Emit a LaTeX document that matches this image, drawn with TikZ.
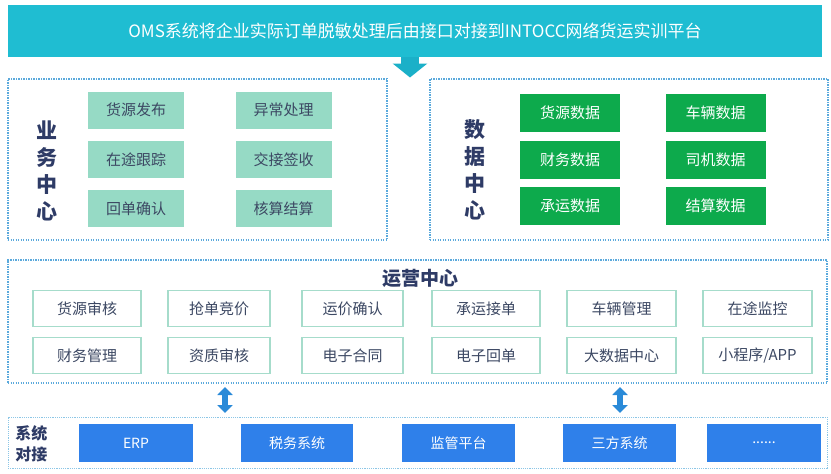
\documentclass[tikz,border=0pt]{standalone}
\usepackage{fontspec}
\setmainfont{Noto Sans CJK SC}
\usetikzlibrary{arrows.meta}
\definecolor{bannerc}{HTML}{1FBDD2}
\definecolor{arrowc}{HTML}{1BB0C8}
\definecolor{lightg}{HTML}{96DAC5}
\definecolor{darkg}{HTML}{0DAA4C}
\definecolor{navy}{HTML}{2E3B66}
\definecolor{boxtxt}{HTML}{3C4863}
\definecolor{opsb}{HTML}{A6DCCB}
\definecolor{bluebox}{HTML}{2F80EA}
\definecolor{dotc}{HTML}{5AA9DC}
\definecolor{sysdot}{HTML}{8CC6E6}
\definecolor{dblarrow}{HTML}{2A8AD8}
\tikzset{
  dotframe/.style={draw=dotc, line width=1.3pt, dash pattern=on 1.4pt off 1.1pt},
  sysframe/.style={draw=sysdot, line width=1pt, dash pattern=on 1.2pt off 1pt},
  lgbox/.style={fill=lightg, draw=none, minimum height=37pt, minimum width=96pt, text=boxtxt, font=\fontsize{15}{18}\selectfont, inner sep=0pt},
  dgbox/.style={fill=darkg, draw=none, minimum height=38pt, minimum width=100pt, text=white, font=\fontsize{15}{18}\selectfont, inner sep=0pt},
  opbox/.style={fill=white, draw=opsb, line width=1.3pt, minimum height=36pt, text=boxtxt, font=\fontsize{15}{18}\selectfont, inner sep=0pt},
  bbox/.style={fill=bluebox, draw=none, minimum height=38pt, minimum width=113pt, text=white, font=\fontsize{14}{17}\selectfont, inner sep=0pt},
  biglabel/.style={text=navy, font=\fontsize{21}{27}\selectfont\bfseries, align=center, inner sep=0pt},
  dblarr/.style={draw=dblarrow, line width=6pt, {Triangle[width=15pt,length=8pt]}-{Triangle[width=15pt,length=8pt]}},
}
\begin{document}
\begin{tikzpicture}[x=1pt,y=-1pt]
\useasboundingbox (0,0) rectangle (831,474);
% banner
\node[fill=bannerc, minimum width=814pt, minimum height=52pt, inner sep=0pt, text=white, font=\fontsize{17}{20}\selectfont] (banner) at (415,31) {OMS系统将企业实际订单脱敏处理后由接口对接到INTOCC网络货运实训平台};
\coordinate (ta) at (410,57);
\coordinate (tb) at (410,77.5);
\draw[draw=arrowc, line width=18pt, -{Triangle[width=34pt,length=14pt]}] (ta) -- (tb);
% business center
\node[dotframe, minimum width=379pt, minimum height=161pt, inner sep=0pt] (biz) at (197.5,159.5) {};
\node[biglabel] (bizl) at (47,171) {业\\务\\中\\心};
\node[lgbox] (b1) at (136,110) {货源发布};
\node[lgbox] (b2) at (283.5,110) {异常处理};
\node[lgbox] (b3) at (136,159.5) {在途跟踪};
\node[lgbox] (b4) at (283.5,159.5) {交接签收};
\node[lgbox] (b5) at (136,208.5) {回单确认};
\node[lgbox] (b6) at (283.5,208.5) {核算结算};
% data center
\node[dotframe, minimum width=398pt, minimum height=161pt, inner sep=0pt] (data) at (629,159.5) {};
\node[biglabel] (datal) at (475,170) {数\\据\\中\\心};
\node[dgbox] (d1) at (570,113) {货源数据};
\node[dgbox] (d2) at (715.5,113) {车辆数据};
\node[dgbox] (d3) at (570,159.5) {财务数据};
\node[dgbox] (d4) at (715.5,159.5) {司机数据};
\node[dgbox] (d5) at (570,206) {承运数据};
\node[dgbox] (d6) at (715.5,206) {结算数据};
% operations center
\node[dotframe, minimum width=819pt, minimum height=123pt, inner sep=0pt] (ops) at (417.5,321.5) {};
\node[text=navy, font=\fontsize{19}{22}\selectfont\bfseries, inner sep=0pt] (opsl) at (420,278) {运营中心};
\node[opbox, minimum width=108pt] (o1) at (87,308.5) {货源审核};
\node[opbox, minimum width=102pt] (o2) at (219,308.5) {抢单竞价};
\node[opbox, minimum width=101pt] (o3) at (352.5,308.5) {运价确认};
\node[opbox, minimum width=108pt] (o4) at (486,308.5) {承运接单};
\node[opbox, minimum width=109pt] (o5) at (621.5,308.5) {车辆管理};
\node[opbox, minimum width=109pt] (o6) at (757.5,308.5) {在途监控};
\node[opbox, minimum width=108pt] (o7) at (87,355.5) {财务管理};
\node[opbox, minimum width=102pt] (o8) at (219,355.5) {资质审核};
\node[opbox, minimum width=101pt] (o9) at (352.5,355.5) {电子合同};
\node[opbox, minimum width=108pt] (o10) at (486,355.5) {电子回单};
\node[opbox, minimum width=109pt] (o11) at (621.5,355.5) {大数据中心};
\node[opbox, minimum width=109pt] (o12) at (757.5,355.5) {小程序/APP};
% double arrows
\coordinate (u1) at (225,387);
\coordinate (l1) at (225,413);
\coordinate (u2) at (620,387);
\coordinate (l2) at (620,413);
\draw[dblarr] (u1) -- (l1);
\draw[dblarr] (u2) -- (l2);
% system docking
\node[sysframe, minimum width=819pt, minimum height=51pt, inner sep=0pt] (sys) at (417.5,442.5) {};
\node[text=navy, font=\fontsize{16}{21}\selectfont\bfseries, align=center, inner sep=0pt] (sysl) at (31.5,444) {系统\\对接};
\node[bbox, minimum width=114pt] (s1) at (136,443) {ERP};
\node[bbox, minimum width=112pt] (s2) at (297,443) {税务系统};
\node[bbox] (s3) at (458.5,443) {监管平台};
\node[bbox] (s4) at (619.5,443) {三方系统};
\node[bbox, minimum width=114pt] (s5) at (764,443) {......};
\end{tikzpicture}
\end{document}
